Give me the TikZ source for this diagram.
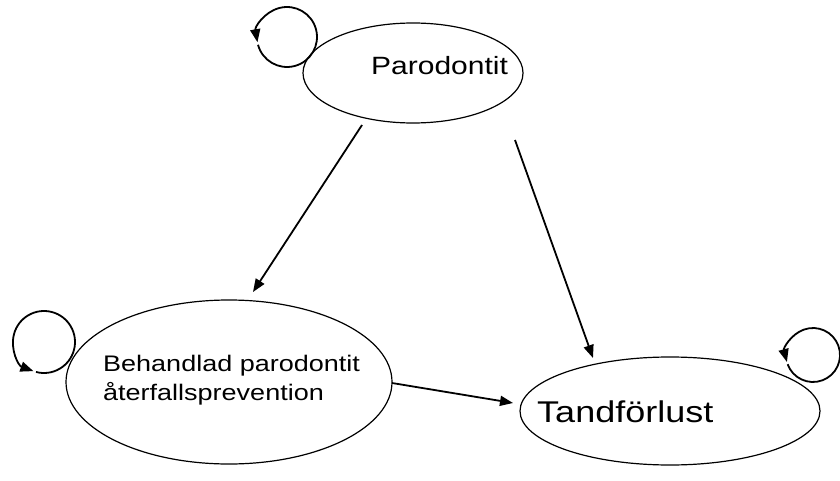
\documentclass[tikz,border=0pt]{standalone}
\usepackage{fontspec}
\setmainfont{Liberation Sans}
\usetikzlibrary{arrows.meta,shapes.geometric}
\definecolor{LineClr}{rgb}{0,0,0}

\begin{document}
\begin{tikzpicture}[x=1pt,y=1pt,
  state/.style={draw=LineClr,ellipse,line width=1.2pt,inner sep=0pt},
  trans/.style={draw=LineClr,line width=1.8pt,-{Triangle[length=13pt,width=10pt]}},
  stateTxt/.style={inner sep=0pt,anchor=base west}]
\useasboundingbox (0,0) rectangle (840,480);

\node[state,minimum width=220pt,minimum height=100pt] (paro) at (413,407) {};
\node[state,minimum width=326pt,minimum height=164pt] (beh) at (229,98) {};
\node[state,minimum width=300pt,minimum height=108pt] (tand) at (670,69) {};

\node[stateTxt,font=\fontsize{25}{30}\selectfont\addfontfeature{FakeStretch=1.2}] (paroTxt) at ([shift={(-42pt,-2pt)}]paro.center) {Parodontit};
\node[stateTxt,anchor=west,align=left,font=\fontsize{22.5}{29}\selectfont\addfontfeature{FakeStretch=1.2}] (behTxt) at ([shift={(-126pt,2pt)}]beh.center) {Behandlad parodontit\\återfallsprevention};
\node[stateTxt,font=\fontsize{30}{34}\selectfont\addfontfeature{FakeStretch=1.2}] (tandTxt) at ([shift={(-133pt,-11pt)}]tand.center) {Tandförlust};

\draw[trans] ([shift={(-51pt,-52pt)}]paro.center) -- ([shift={(24pt,90pt)}]beh.center);
\draw[trans] ([shift={(102pt,-67pt)}]paro.center) -- ([shift={(-77pt,53pt)}]tand.center);
\draw[trans] ([shift={(163pt,-1pt)}]beh.center) -- ([shift={(-157pt,8pt)}]tand.center);

% self loops
\draw[trans] ([shift={(-126pt,36pt)}]paro.center) ++(-165:30pt) arc[start angle=-165,end angle=190,radius=30pt];
\draw[trans] ([shift={(-185pt,40pt)}]beh.center) ++(-105:31pt) arc[start angle=-105,end angle=250,radius=31pt];
\draw[trans] ([shift={(143pt,56pt)}]tand.center) ++(-160:27pt) arc[start angle=-160,end angle=195,radius=27pt];

\end{tikzpicture}
\end{document}
